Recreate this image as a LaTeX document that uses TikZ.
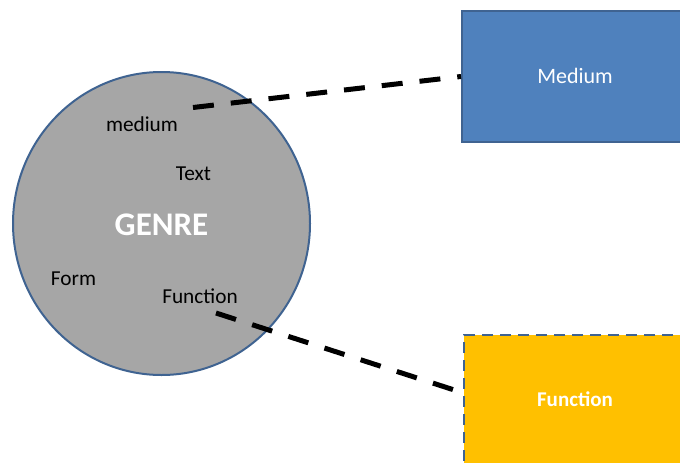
\documentclass[tikz,border=0pt]{standalone}
\usepackage{fontspec}
\setmainfont{Carlito}
\usetikzlibrary{shapes.geometric}
\definecolor{genregrey}{HTML}{A6A6A6}
\definecolor{outlineblue}{HTML}{3F6391}
\definecolor{mediumblue}{HTML}{4F81BD}
\definecolor{functionorange}{HTML}{FFC000}
\tikzset{
  label text/.style={font=\fontsize{21.3}{24}\selectfont, text=black, inner sep=0pt},
  boxbase/.style={rectangle, minimum width=228pt, minimum height=131pt, inner sep=0pt,
                  line width=2pt, draw=outlineblue},
  link/.style={line width=5pt, black, dash pattern=on 21pt off 17pt},
}
\begin{document}
\begin{tikzpicture}[x=1pt,y=-1pt]
  \useasboundingbox (0,0) rectangle (680,463);
  \clip (0,0) rectangle (680,463);

  % the genre circle and its features
  \node[ellipse, fill=genregrey, draw=outlineblue, line width=2pt,
        minimum width=297pt, minimum height=303pt, inner sep=0pt] (genre) at (161.5,223.5) {};
  \node[font=\fontsize{33}{36}\selectfont\bfseries, text=white, inner sep=0pt] (genretitle) at (161.5,225) {GENRE};
  \node[label text] (medium) at (142,124) {medium};
  \node[label text] (text) at (193.5,173.5) {Text};
  \node[label text] (form) at (73.5,279) {Form};
  \node[label text] (function) at (200,296) {Function};

  % the two boxes on the right
  \node[boxbase, fill=mediumblue, text=white, font=\fontsize{22}{26}\selectfont,
        anchor=north west] (mediumbox) at (461,10) {};
  \node[text=white, font=\fontsize{22}{26}\selectfont, inner sep=0pt] (mediumlabel) at (575,76) {Medium};
  \node[boxbase, fill=functionorange, dash pattern=on 11pt off 7pt,
        anchor=north west] (functionbox) at (463,334) {};
  \node[text=white, font=\fontsize{21}{24}\selectfont\bfseries, inner sep=0pt] (functionlabel) at (575,399.5) {Function};

  % dashed links from the features to the boxes
  \coordinate (mediumstart) at (193,107.5);
  \coordinate (functionstart) at (216,313);
  \coordinate (functionend) at (462,392.5);
  \draw[link] (mediumstart) -- (mediumbox.west);
  \draw[link] (functionstart) -- (functionend);
\end{tikzpicture}
\end{document}
